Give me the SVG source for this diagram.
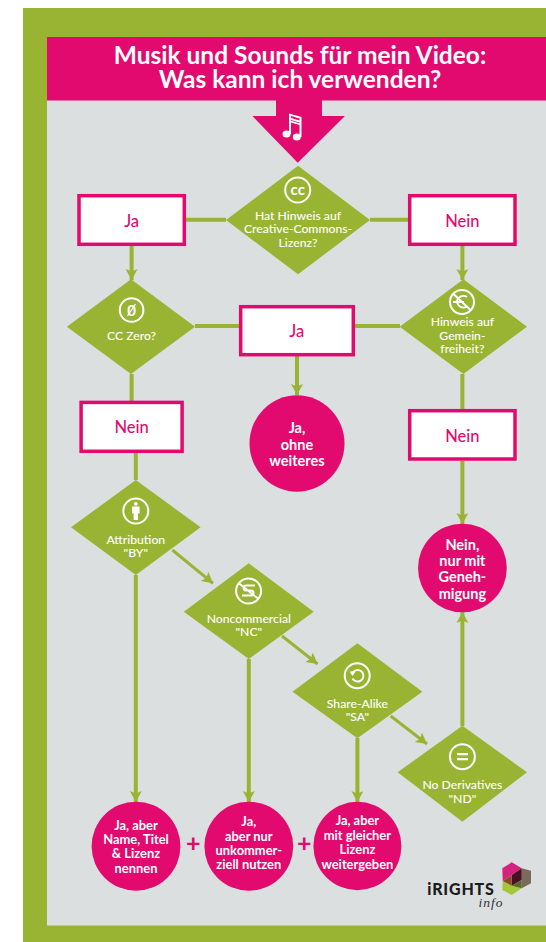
<svg xmlns="http://www.w3.org/2000/svg" width="546" height="942" viewBox="0 0 546 942">
<style>
text{font-family:"Lato","Open Sans","Liberation Sans",sans-serif;text-anchor:middle}
.d{fill:#99b433}
.l{stroke:#99b433;stroke-width:4;fill:none}
.a{stroke:#99b433;stroke-width:4;fill:none;marker-end:url(#ah)}
.a2{stroke:#99b433;stroke-width:3;fill:none;marker-end:url(#ah)}
.b{fill:#fff;stroke:#e20a6e;stroke-width:3.5}
.bt{fill:#e20a6e;font-size:16.5px;font-weight:500}
.c{fill:#e20a6e}
.ct{fill:#fff;font-size:14.5px;font-weight:700}
.cs{fill:#fff;font-size:12.9px;font-weight:700}
.dt{fill:#fff;font-size:12.2px;font-weight:500}
.i{fill:none;stroke:#fff;stroke-width:2}
.it{fill:#fff;font-size:15px;font-weight:700}
.ip{fill:none;stroke:#fff;stroke-width:1.9}
.pl{fill:#e20a6e;font-size:25px;font-weight:700}
</style>
<defs>
<marker id="ah" markerUnits="userSpaceOnUse" markerWidth="14" markerHeight="14" refX="11" refY="6" orient="auto"><path d="M0 0L11 6L0 12L2.500 6Z" fill="#99b433"/></marker>
</defs>
<rect width="546" height="942" fill="#fff"/>
<rect x="23" y="8" width="523" height="934" fill="#99b433"/>
<rect x="47" y="100" width="499" height="825.500" fill="#dcdfe0"/>
<g id="header">
<rect x="47" y="37" width="499" height="63.500" fill="#e20a6e"/>
<text x="300" y="63.500" fill="#fff" font-size="24.500" font-weight="700">Musik und Sounds für mein Video:</text>
<text x="300" y="87.500" fill="#fff" font-size="24.500" font-weight="700">Was kann ich verwenden?</text>
</g>
<g id="start">
<path d="M276 100H322V116H345L297.700 162.700L252.400 116H276Z" fill="#e20a6e"/>
<g fill="#fff"><ellipse cx="286.500" cy="134" rx="4" ry="3.600"/><ellipse cx="296.800" cy="137" rx="4" ry="3.600"/>
<path d="M289 113.500L301.500 117V137H299.500V125L291 122.500V134H289ZM291 116V118L299.500 120.500V118.500ZM291 120V120.700L299.500 123.200V122.500Z" fill-rule="evenodd"/></g>
</g>
<g id="connectors">
<path class="l" d="M186 219.700H226M370 219.700H408M195 326H239M355 326H400M131.600 374V401M135.800 453V480M462.400 374V409"/>
<path class="a" d="M131.600 246V280"/>
<path class="a" d="M462.400 246V280"/>
<path class="a" d="M297 356V395"/>
<path class="a" d="M462.400 461V524"/>
<path class="a" d="M135.800 575V802"/>
<path class="a" d="M248.800 659V802"/>
<path class="a" d="M357.400 738V802"/>
<path class="a" d="M462.400 726V612"/>
<path class="a2" d="M172.400 550L213 583.300"/>
<path class="a2" d="M282 636L317.600 664"/>
<path class="a2" d="M390.700 716L427 744"/>
</g>
<g id="q-cc">
<path class="d" d="M298 165.700L370 220L298 274.300L226 220Z"/>
<circle class="i" cx="297.700" cy="190" r="12.500"/><text class="it" x="297.700" y="194.500">cc</text>
<text class="dt" x="298" y="220">Hat Hinweis auf</text><text class="dt" x="298" y="233.300">Creative-Commons-</text><text class="dt" x="298" y="246.500">Lizenz?</text>
</g>
<g id="box-ja-1"><rect class="b" x="79" y="195.700" width="105.300" height="48.600"/><text class="bt" x="131.600" y="226.500">Ja</text></g>
<g id="box-nein-1"><rect class="b" x="409.700" y="195.700" width="105.300" height="48.600"/><text class="bt" x="462.400" y="226.500">Nein</text></g>
<g id="q-zero">
<path class="d" d="M131 279.300L195 326.700L131 374L66.900 326.700Z"/>
<circle class="i" cx="131.600" cy="310" r="11.800"/><text class="it" x="131.600" y="315.500">0</text>
<path d="M127.500 316L135.500 304" stroke="#fff" stroke-width="1.200"/>
<text class="dt" x="131.600" y="340">CC Zero?</text>
</g>
<g id="box-ja-2"><rect class="b" x="240.700" y="306.700" width="112.600" height="48"/><text class="bt" x="296.700" y="337">Ja</text></g>
<g id="q-pd">
<path class="d" d="M463.400 279.300L527 326.700L463.400 374L399.700 326.700Z"/>
<circle class="i" cx="462" cy="302" r="12"/>
<path class="ip" d="M453.500 294L470.500 310M467 297a6.500 6.500 0 0 0-10 4a6.500 6.500 0 0 0 10 5.500M453 302H464"/>
<text class="dt" x="462.400" y="326.300">Hinweis auf</text><text class="dt" x="462.400" y="339.600">Gemein-</text><text class="dt" x="462.400" y="353">freiheit?</text>
</g>
<g id="box-nein-2"><rect class="b" x="81.100" y="402.400" width="101" height="48.900"/><text class="bt" x="131.600" y="433">Nein</text></g>
<g id="end-ja"><ellipse class="c" cx="297" cy="443.500" rx="47.500" ry="48.200"/>
<text class="ct" x="297" y="433">Ja,</text><text class="ct" x="297" y="449.500">ohne</text><text class="ct" x="297" y="466">weiteres</text></g>
<g id="box-nein-3"><rect class="b" x="409.700" y="410.700" width="105.300" height="48.300"/><text class="bt" x="462.400" y="441.500">Nein</text></g>
<g id="end-nein"><ellipse class="c" cx="462.400" cy="568" rx="44.400" ry="44.300"/>
<text class="ct" x="462.400" y="549.500">Nein,</text><text class="ct" x="462.400" y="566">nur mit</text><text class="ct" x="462.400" y="582">Geneh-</text><text class="ct" x="462.400" y="598.500">migung</text></g>
<g id="q-by">
<path class="d" d="M135.800 480L200.600 527.300L135.800 575L71 527.300Z"/>
<circle class="i" cx="135.800" cy="511" r="12.500"/>
<circle cx="135.800" cy="503.800" r="1.900" fill="#fff"/><path d="M132 506.500H139.600V513.500H138V520H133.600V513.500H132Z" fill="#fff"/>
<text class="dt" x="135.800" y="543.500">Attribution</text><text class="dt" x="135.800" y="556.800">"BY"</text>
</g>
<g id="q-nc">
<path class="d" d="M248.800 563.300L313.700 611.700L248.800 659L183.800 611.700Z"/>
<circle class="i" cx="248.600" cy="591" r="12.500"/>
<path class="ip" d="M238.500 583L258.500 599M255 585.500H246a2.500 2.500 0 0 0 0 5h5a2.500 2.500 0 0 1 0 5H242"/>
<text class="dt" x="248.800" y="623.200">Noncommercial</text><text class="dt" x="248.800" y="636">"NC"</text>
</g>
<g id="q-sa">
<path class="d" d="M357.400 643.300L422.400 691.700L357.400 738.300L292.500 691.700Z"/>
<circle class="i" cx="357.200" cy="675.700" r="12.500"/>
<path class="ip" stroke-width="2.200" d="M352.500 673a5.800 5.800 0 1 1 0 5.500"/><path d="M349.500 671.500h6l-3 4.500z" fill="#fff"/>
<text class="dt" x="357.400" y="708">Share-Alike</text><text class="dt" x="357.400" y="721">"SA"</text>
</g>
<g id="q-nd">
<path class="d" d="M462.400 725.700L527 772.300L462.400 821.700L397.600 772.300Z"/>
<circle class="i" cx="462.400" cy="756.700" r="12.500"/>
<path d="M457 753H468V755.300H457ZM457 758H468V760.300H457Z" fill="#fff"/>
<text class="dt" x="462.400" y="789.200">No Derivatives</text><text class="dt" x="462.400" y="802.500">"ND"</text>
</g>
<g id="end-by"><ellipse class="c" cx="136" cy="846.200" rx="44.400" ry="44.500"/>
<text class="cs" x="136" y="829.500">Ja, aber</text><text class="cs" x="136" y="844">Name, Titel</text><text class="cs" x="136" y="858">&amp; Lizenz</text><text class="cs" x="136" y="873">nennen</text></g>
<g id="end-nc"><ellipse class="c" cx="248.800" cy="846.200" rx="44.400" ry="44.500"/>
<text class="cs" x="248.800" y="826">Ja,</text><text class="cs" x="248.800" y="840.500">aber nur</text><text class="cs" x="248.800" y="854.500">unkommer-</text><text class="cs" x="248.800" y="869">ziell nutzen</text></g>
<g id="end-sa"><ellipse class="c" cx="357.400" cy="846" rx="44" ry="44.200"/>
<text class="cs" x="357.400" y="825">Ja, aber</text><text class="cs" x="357.400" y="839.500">mit gleicher</text><text class="cs" x="357.400" y="854">Lizenz</text><text class="cs" x="357.400" y="868.500">weitergeben</text></g>
<text class="pl" x="193.200" y="852">+</text>
<text class="pl" x="304.300" y="852">+</text>
<g id="logo">
<path d="M521.700 868.300L531 870.700V883.300L521.700 888.300Z" fill="#7a6a5c"/>
<path d="M511.700 862.300L521.700 868.300L511.700 875L502.700 881L502.300 868.300Z" fill="#d4227e"/>
<path d="M502.700 881L511.700 885.700L521.700 888.300L511.700 895L502.300 890Z" fill="#a4c639"/>
<path d="M511.700 875L521.700 868.300V880L511.700 885.700Z" fill="#4a0f22"/>
<path d="M511.700 885.700L521.700 880V888.300Z" fill="#566b2a"/>
<path d="M502.700 881L511.700 875V885.700Z" fill="#8a4a2a"/>
<text x="461" y="895" font-size="16" font-weight="900" fill="#1c1c1c" letter-spacing=".8">iRIGHTS</text>
<text x="491" y="906.700" font-size="13.500" font-style="italic" fill="#333" style="font-family:'Liberation Serif',serif" letter-spacing="1">info</text>
</g>
</svg>
